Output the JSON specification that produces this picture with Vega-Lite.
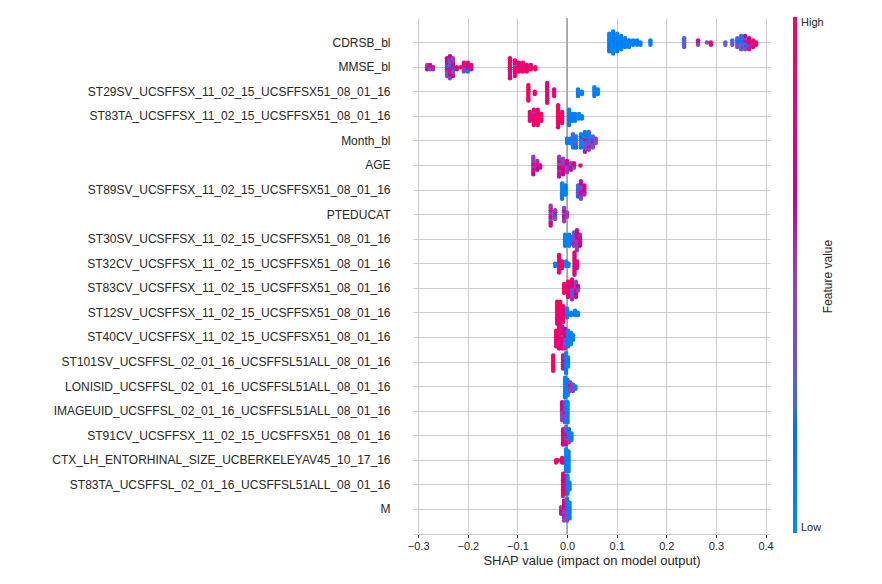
{
  "$schema": "https://vega.github.io/schema/vega-lite/v6.json",
  "width": 357,
  "height": 516,
  "autosize": {"type": "none"},
  "padding": {"left": 413, "top": 18, "right": 112, "bottom": 50},
  "background": "white",
  "config": {
    "view": {"stroke": null},
    "font": "Liberation Sans"
  },
  "layer": [
    {
      "data": {"values": [{}]},
      "mark": {"type": "rule", "color": "#999999", "strokeWidth": 1.5},
      "encoding": {"x": {"datum": 0, "type": "quantitative"}}
    },
    {
      "data": {
        "values": [
          {"f": "CDRSB_bl", "x": 0.085, "c": [0.05,0.1,0.05,0.15,0.05,0.1,0.05,0.1,0.05]},
          {"f": "CDRSB_bl", "x": 0.093, "c": [0.1,0.05,0.1,0.05,0.15,0.05,0.1,0.05,0.1,0.05,0.1]},
          {"f": "CDRSB_bl", "x": 0.101, "c": [0.05,0.1,0.05,0.1,0.05,0.15,0.05,0.1,0.05]},
          {"f": "CDRSB_bl", "x": 0.109, "c": [0.1,0.05,0.1,0.05,0.1,0.05,0.1]},
          {"f": "CDRSB_bl", "x": 0.117, "c": [0.05,0.1,0.05,0.1,0.05]},
          {"f": "CDRSB_bl", "x": 0.125, "c": [0.1,0.05,0.1,0.05]},
          {"f": "CDRSB_bl", "x": 0.133, "c": [0.05,0.1,0.05]},
          {"f": "CDRSB_bl", "x": 0.141, "c": [0.1,0.05,0.1]},
          {"f": "CDRSB_bl", "x": 0.148, "c": [0.05,0.1]},
          {"f": "CDRSB_bl", "x": 0.168, "c": [0.05,0.1,0.05]},
          {"f": "CDRSB_bl", "x": 0.236, "c": [0.3,0.25,0.3,0.35,0.25]},
          {"f": "CDRSB_bl", "x": 0.264, "c": [0.65,0.45,0.6]},
          {"f": "CDRSB_bl", "x": 0.282, "c": [0.4]},
          {"f": "CDRSB_bl", "x": 0.29, "c": [0.95,0.9]},
          {"f": "CDRSB_bl", "x": 0.319, "c": [0.35,0.3]},
          {"f": "CDRSB_bl", "x": 0.333, "c": [0.3,0.45,0.25]},
          {"f": "CDRSB_bl", "x": 0.343, "c": [0.2,0.35,0.15,0.4,0.3]},
          {"f": "CDRSB_bl", "x": 0.351, "c": [0.15,0.3,0.2,0.45,0.1,0.35,0.25]},
          {"f": "CDRSB_bl", "x": 0.359, "c": [0.6,0.3,0.75,0.2,0.5,0.4,0.65]},
          {"f": "CDRSB_bl", "x": 0.367, "c": [0.8,0.6,0.9,0.55,0.7,0.85]},
          {"f": "CDRSB_bl", "x": 0.375, "c": [0.9,0.85,0.95,0.8]},
          {"f": "CDRSB_bl", "x": 0.381, "c": [0.95,0.9]},

          {"f": "MMSE_bl", "x": -0.282, "c": [0.5,0.7,0.45]},
          {"f": "MMSE_bl", "x": -0.276, "c": [0.6,0.4,0.75]},
          {"f": "MMSE_bl", "x": -0.27, "c": [0.7,0.55]},
          {"f": "MMSE_bl", "x": -0.242, "c": [0.4,0.7,0.2,0.55,0.85,0.3,0.6,0.45,0.75]},
          {"f": "MMSE_bl", "x": -0.236, "c": [0.3,0.8,0.1,0.6,0.45,0.9,0.25,0.7,0.5,0.35,0.65]},
          {"f": "MMSE_bl", "x": -0.23, "c": [0.6,0.2,0.75,0.4,0.85,0.3,0.55,0.7,0.45]},
          {"f": "MMSE_bl", "x": -0.222, "c": [0.9,0.85]},
          {"f": "MMSE_bl", "x": -0.214, "c": [0.95]},
          {"f": "MMSE_bl", "x": -0.208, "c": [0.7,0.3,0.9,0.5,0.8]},
          {"f": "MMSE_bl", "x": -0.2, "c": [0.2,0.85,0.6,0.1,0.9]},
          {"f": "MMSE_bl", "x": -0.193, "c": [0.8,0.6,0.9]},
          {"f": "MMSE_bl", "x": -0.115, "c": [0.9,0.85,0.95,0.8,0.9,0.6,0.95,0.85,0.9,0.75]},
          {"f": "MMSE_bl", "x": -0.105, "c": [0.85,0.9,0.5,0.95,0.8,0.9,0.85,0.95]},
          {"f": "MMSE_bl", "x": -0.097, "c": [0.9,0.95,0.85,0.9,0.8]},
          {"f": "MMSE_bl", "x": -0.089, "c": [0.2,0.9,0.95,0.85,0.9]},
          {"f": "MMSE_bl", "x": -0.081, "c": [0.95,0.9,0.85,0.9]},
          {"f": "MMSE_bl", "x": -0.073, "c": [0.9,0.95,0.85]},
          {"f": "MMSE_bl", "x": -0.064, "c": [0.95,0.9]},

          {"f": "ST29SV_UCSFFSX_11_02_15_UCSFFSX51_08_01_16", "x": -0.078, "c": [0.95,0.9,0.95,0.9,0.95,0.85,0.95,0.9]},
          {"f": "ST29SV_UCSFFSX_11_02_15_UCSFFSX51_08_01_16", "x": -0.065, "c": [0.95,0.9]},
          {"f": "ST29SV_UCSFFSX_11_02_15_UCSFFSX51_08_01_16", "x": -0.04, "c": [0.9,0.8,0.95,0.75,0.9,0.85,0.7,0.95,0.8,0.9]},
          {"f": "ST29SV_UCSFFSX_11_02_15_UCSFFSX51_08_01_16", "x": -0.026, "c": [0.85,0.9,0.75,0.95]},
          {"f": "ST29SV_UCSFFSX_11_02_15_UCSFFSX51_08_01_16", "x": 0.022, "c": [0.05,0.1,0.05,0.1]},
          {"f": "ST29SV_UCSFFSX_11_02_15_UCSFFSX51_08_01_16", "x": 0.03, "c": [0.05,0.1]},
          {"f": "ST29SV_UCSFFSX_11_02_15_UCSFFSX51_08_01_16", "x": 0.055, "c": [0.05,0.1,0.05,0.1,0.05]},
          {"f": "ST29SV_UCSFFSX_11_02_15_UCSFFSX51_08_01_16", "x": 0.062, "c": [0.05,0.1,0.05]},

          {"f": "ST83TA_UCSFFSX_11_02_15_UCSFFSX51_08_01_16", "x": -0.075, "c": [0.9,0.6,0.95,0.85,0.9]},
          {"f": "ST83TA_UCSFFSX_11_02_15_UCSFFSX51_08_01_16", "x": -0.067, "c": [0.95,0.9,0.85,0.95,0.5,0.9,0.95,0.85]},
          {"f": "ST83TA_UCSFFSX_11_02_15_UCSFFSX51_08_01_16", "x": -0.059, "c": [0.9,0.95,0.85,0.9,0.95,0.9,0.85,0.95]},
          {"f": "ST83TA_UCSFFSX_11_02_15_UCSFFSX51_08_01_16", "x": -0.052, "c": [0.9,0.85,0.95,0.9]},
          {"f": "ST83TA_UCSFFSX_11_02_15_UCSFFSX51_08_01_16", "x": -0.018, "c": [0.95,0.9,0.95,0.9,0.95,0.9,0.95,0.9,0.95,0.9,0.95]},
          {"f": "ST83TA_UCSFFSX_11_02_15_UCSFFSX51_08_01_16", "x": -0.01, "c": [0.9,0.95,0.9,0.95,0.9,0.95]},
          {"f": "ST83TA_UCSFFSX_11_02_15_UCSFFSX51_08_01_16", "x": 0.004, "c": [0.05,0.1,0.05,0.1,0.05,0.1,0.05,0.1]},
          {"f": "ST83TA_UCSFFSX_11_02_15_UCSFFSX51_08_01_16", "x": 0.01, "c": [0.05,0.1,0.05,0.1]},
          {"f": "ST83TA_UCSFFSX_11_02_15_UCSFFSX51_08_01_16", "x": 0.016, "c": [0.05,0.1,0.05,0.1]},
          {"f": "ST83TA_UCSFFSX_11_02_15_UCSFFSX51_08_01_16", "x": 0.024, "c": [0.05,0.1,0.05]},
          {"f": "ST83TA_UCSFFSX_11_02_15_UCSFFSX51_08_01_16", "x": 0.03, "c": [0.05,0.1]},

          {"f": "Month_bl", "x": 0.0, "c": [0.05,0.1,0.05]},
          {"f": "Month_bl", "x": 0.006, "c": [0.1,0.05,0.1]},
          {"f": "Month_bl", "x": 0.012, "c": [0.3,0.05,0.4,0.1,0.25,0.05,0.35]},
          {"f": "Month_bl", "x": 0.018, "c": [0.05,0.3,0.1,0.4,0.05,0.2]},
          {"f": "Month_bl", "x": 0.028, "c": [0.1,0.05,0.3,0.05,0.2,0.1,0.05]},
          {"f": "Month_bl", "x": 0.036, "c": [0.4,0.1,0.9,0.3,0.05,0.5,0.2,0.35,0.1,0.6]},
          {"f": "Month_bl", "x": 0.044, "c": [0.2,0.5,0.1,0.4,0.3,0.6,0.05,0.45,0.25]},
          {"f": "Month_bl", "x": 0.052, "c": [0.35,0.6,0.2,0.5,0.3,0.45]},
          {"f": "Month_bl", "x": 0.058, "c": [0.4,0.3,0.5]},

          {"f": "AGE", "x": -0.068, "c": [0.7,0.5,0.8,0.6,0.45,0.75,0.55,0.65,0.5]},
          {"f": "AGE", "x": -0.06, "c": [0.85,0.6,0.9,0.7,0.55]},
          {"f": "AGE", "x": -0.054, "c": [0.8,0.6]},
          {"f": "AGE", "x": -0.016, "c": [0.5,0.7,0.4,0.8,0.6,0.45,0.55,0.75,0.5,0.6]},
          {"f": "AGE", "x": -0.008, "c": [0.6,0.9,0.45,0.7,0.5,0.85,0.4,0.65]},
          {"f": "AGE", "x": 0.0, "c": [0.55,0.35,0.7,0.45,0.8,0.5]},
          {"f": "AGE", "x": 0.008, "c": [0.5,0.7,0.45,0.6]},
          {"f": "AGE", "x": 0.014, "c": [0.65,0.5,0.75]},
          {"f": "AGE", "x": 0.027, "c": [0.95]},

          {"f": "ST89SV_UCSFFSX_11_02_15_UCSFFSX51_08_01_16", "x": -0.01, "c": [0.05,0.1,0.05,0.1,0.05,0.1,0.05,0.1]},
          {"f": "ST89SV_UCSFFSX_11_02_15_UCSFFSX51_08_01_16", "x": -0.003, "c": [0.1,0.05,0.1,0.05,0.1]},
          {"f": "ST89SV_UCSFFSX_11_02_15_UCSFFSX51_08_01_16", "x": 0.022, "c": [0.2,0.45,0.1,0.5,0.3,0.15]},
          {"f": "ST89SV_UCSFFSX_11_02_15_UCSFFSX51_08_01_16", "x": 0.028, "c": [0.5,0.6,0.4,0.7,0.45,0.55,0.65,0.35,0.6]},
          {"f": "ST89SV_UCSFFSX_11_02_15_UCSFFSX51_08_01_16", "x": 0.035, "c": [0.7,0.6,0.8,0.55,0.75]},

          {"f": "PTEDUCAT", "x": -0.033, "c": [0.5,0.7,0.45,0.6,0.8,0.4,0.55,0.65,0.5,0.75]},
          {"f": "PTEDUCAT", "x": -0.024, "c": [0.4,0.2,0.6,0.35,0.5]},
          {"f": "PTEDUCAT", "x": -0.006, "c": [0.55,0.7,0.45,0.6,0.65,0.5,0.4]},
          {"f": "PTEDUCAT", "x": 0.0, "c": [0.6,0.5,0.45]},

          {"f": "ST30SV_UCSFFSX_11_02_15_UCSFFSX51_08_01_16", "x": -0.004, "c": [0.05,0.1,0.05,0.1,0.05,0.1]},
          {"f": "ST30SV_UCSFFSX_11_02_15_UCSFFSX51_08_01_16", "x": 0.004, "c": [0.1,0.05,0.1,0.05,0.1,0.05]},
          {"f": "ST30SV_UCSFFSX_11_02_15_UCSFFSX51_08_01_16", "x": 0.01, "c": [0.05,0.1,0.05,0.1]},
          {"f": "ST30SV_UCSFFSX_11_02_15_UCSFFSX51_08_01_16", "x": 0.014, "c": [0.45,0.5,0.35,0.6,0.4,0.55,0.3]},
          {"f": "ST30SV_UCSFFSX_11_02_15_UCSFFSX51_08_01_16", "x": 0.02, "c": [0.6,0.5,0.7,0.45,0.8,0.55,0.65,0.4,0.75,0.5]},
          {"f": "ST30SV_UCSFFSX_11_02_15_UCSFFSX51_08_01_16", "x": 0.026, "c": [0.7,0.8,0.6,0.75,0.55,0.65]},

          {"f": "ST32CV_UCSFFSX_11_02_15_UCSFFSX51_08_01_16", "x": -0.024, "c": [0.05,0.1]},
          {"f": "ST32CV_UCSFFSX_11_02_15_UCSFFSX51_08_01_16", "x": -0.016, "c": [0.9,0.95,0.85,0.95,0.8,0.9,0.95,0.85,0.9]},
          {"f": "ST32CV_UCSFFSX_11_02_15_UCSFFSX51_08_01_16", "x": -0.01, "c": [0.9,0.85,0.95,0.9]},
          {"f": "ST32CV_UCSFFSX_11_02_15_UCSFFSX51_08_01_16", "x": -0.002, "c": [0.05,0.1,0.05]},
          {"f": "ST32CV_UCSFFSX_11_02_15_UCSFFSX51_08_01_16", "x": 0.003, "c": [0.1,0.05]},
          {"f": "ST32CV_UCSFFSX_11_02_15_UCSFFSX51_08_01_16", "x": 0.015, "c": [0.9,0.8,0.95,0.7,0.85,0.9,0.75,0.95,0.8,0.6,0.9]},
          {"f": "ST32CV_UCSFFSX_11_02_15_UCSFFSX51_08_01_16", "x": 0.02, "c": [0.85,0.7,0.9,0.8]},

          {"f": "ST83CV_UCSFFSX_11_02_15_UCSFFSX51_08_01_16", "x": -0.006, "c": [0.9,0.95,0.85,0.9,0.95]},
          {"f": "ST83CV_UCSFFSX_11_02_15_UCSFFSX51_08_01_16", "x": 0.002, "c": [0.8,0.9,0.7,0.95,0.85,0.75,0.9,0.8]},
          {"f": "ST83CV_UCSFFSX_11_02_15_UCSFFSX51_08_01_16", "x": 0.01, "c": [0.6,0.3,0.8,0.5,0.9,0.1,0.7,0.4,0.85,0.55]},
          {"f": "ST83CV_UCSFFSX_11_02_15_UCSFFSX51_08_01_16", "x": 0.018, "c": [0.5,0.7,0.4,0.8,0.45,0.65,0.3,0.6]},
          {"f": "ST83CV_UCSFFSX_11_02_15_UCSFFSX51_08_01_16", "x": 0.022, "c": [0.6,0.4,0.7]},

          {"f": "ST12SV_UCSFFSX_11_02_15_UCSFFSX51_08_01_16", "x": -0.02, "c": [0.95,0.9,0.95,0.9,0.95,0.9,0.95,0.9,0.95,0.9,0.95]},
          {"f": "ST12SV_UCSFFSX_11_02_15_UCSFFSX51_08_01_16", "x": -0.014, "c": [0.9,0.8,0.95,0.85,0.9,0.75,0.95,0.85,0.9,0.8,0.95]},
          {"f": "ST12SV_UCSFFSX_11_02_15_UCSFFSX51_08_01_16", "x": -0.008, "c": [0.85,0.9,0.8,0.95,0.7,0.9,0.85,0.9]},
          {"f": "ST12SV_UCSFFSX_11_02_15_UCSFFSX51_08_01_16", "x": 0.0, "c": [0.05,0.1,0.05,0.1,0.05]},
          {"f": "ST12SV_UCSFFSX_11_02_15_UCSFFSX51_08_01_16", "x": 0.008, "c": [0.05,0.1]},
          {"f": "ST12SV_UCSFFSX_11_02_15_UCSFFSX51_08_01_16", "x": 0.016, "c": [0.05,0.1,0.05]},
          {"f": "ST12SV_UCSFFSX_11_02_15_UCSFFSX51_08_01_16", "x": 0.022, "c": [0.05,0.1]},

          {"f": "ST40CV_UCSFFSX_11_02_15_UCSFFSX51_08_01_16", "x": -0.022, "c": [0.9,0.85,0.95,0.8,0.9,0.85,0.95,0.9]},
          {"f": "ST40CV_UCSFFSX_11_02_15_UCSFFSX51_08_01_16", "x": -0.016, "c": [0.85,0.7,0.9,0.95,0.6,0.85,0.9,0.75,0.95,0.8,0.9]},
          {"f": "ST40CV_UCSFFSX_11_02_15_UCSFFSX51_08_01_16", "x": -0.01, "c": [0.7,0.9,0.5,0.85,0.95,0.6,0.8,0.9,0.55,0.85,0.75]},
          {"f": "ST40CV_UCSFFSX_11_02_15_UCSFFSX51_08_01_16", "x": -0.004, "c": [0.6,0.4,0.8,0.5,0.7,0.3,0.9,0.45,0.65,0.55]},
          {"f": "ST40CV_UCSFFSX_11_02_15_UCSFFSX51_08_01_16", "x": 0.002, "c": [0.05,0.1,0.05,0.1,0.05,0.1,0.05,0.1]},
          {"f": "ST40CV_UCSFFSX_11_02_15_UCSFFSX51_08_01_16", "x": 0.008, "c": [0.1,0.05,0.1,0.05,0.1,0.05]},
          {"f": "ST40CV_UCSFFSX_11_02_15_UCSFFSX51_08_01_16", "x": 0.012, "c": [0.05,0.1,0.05]},

          {"f": "ST101SV_UCSFFSL_02_01_16_UCSFFSL51ALL_08_01_16", "x": -0.028, "c": [0.95,0.9,0.95,0.9,0.95,0.9,0.95,0.9]},
          {"f": "ST101SV_UCSFFSL_02_01_16_UCSFFSL51ALL_08_01_16", "x": -0.008, "c": [0.8,0.9,0.7,0.85,0.9,0.75,0.85]},
          {"f": "ST101SV_UCSFFSL_02_01_16_UCSFFSL51ALL_08_01_16", "x": -0.002, "c": [0.05,0.1,0.05,0.1,0.05,0.1,0.05,0.1,0.05,0.1]},
          {"f": "ST101SV_UCSFFSL_02_01_16_UCSFFSL51ALL_08_01_16", "x": 0.002, "c": [0.1,0.05,0.1,0.05,0.1]},

          {"f": "LONISID_UCSFFSL_02_01_16_UCSFFSL51ALL_08_01_16", "x": -0.004, "c": [0.05,0.1,0.05,0.1,0.05,0.1,0.05,0.1,0.05,0.1]},
          {"f": "LONISID_UCSFFSL_02_01_16_UCSFFSL51ALL_08_01_16", "x": 0.001, "c": [0.1,0.05,0.1,0.05,0.1,0.05,0.1,0.05]},
          {"f": "LONISID_UCSFFSL_02_01_16_UCSFFSL51ALL_08_01_16", "x": 0.006, "c": [0.9,0.45,0.8,0.5,0.35]},
          {"f": "LONISID_UCSFFSL_02_01_16_UCSFFSL51ALL_08_01_16", "x": 0.012, "c": [0.4,0.5,0.3,0.45]},
          {"f": "LONISID_UCSFFSL_02_01_16_UCSFFSL51ALL_08_01_16", "x": 0.017, "c": [0.05,0.1]},

          {"f": "IMAGEUID_UCSFFSL_02_01_16_UCSFFSL51ALL_08_01_16", "x": -0.01, "c": [0.6,0.45,0.75,0.5,0.8,0.4,0.65,0.55,0.7]},
          {"f": "IMAGEUID_UCSFFSL_02_01_16_UCSFFSL51ALL_08_01_16", "x": -0.004, "c": [0.3,0.6,0.1,0.5,0.2,0.45,0.05,0.35,0.15,0.25]},
          {"f": "IMAGEUID_UCSFFSL_02_01_16_UCSFFSL51ALL_08_01_16", "x": 0.001, "c": [0.05,0.1,0.05,0.1,0.05,0.1,0.05,0.1,0.05,0.1]},

          {"f": "ST91CV_UCSFFSX_11_02_15_UCSFFSX51_08_01_16", "x": -0.008, "c": [0.85,0.9,0.75,0.95,0.8,0.9,0.85,0.7]},
          {"f": "ST91CV_UCSFFSX_11_02_15_UCSFFSX51_08_01_16", "x": -0.002, "c": [0.7,0.2,0.85,0.5,0.1,0.9,0.4,0.6,0.3]},
          {"f": "ST91CV_UCSFFSX_11_02_15_UCSFFSX51_08_01_16", "x": 0.004, "c": [0.1,0.4,0.05,0.3,0.1,0.5,0.2]},
          {"f": "ST91CV_UCSFFSX_11_02_15_UCSFFSX51_08_01_16", "x": 0.009, "c": [0.05,0.1,0.05,0.1]},

          {"f": "CTX_LH_ENTORHINAL_SIZE_UCBERKELEYAV45_10_17_16", "x": -0.022, "c": [0.95,0.9]},
          {"f": "CTX_LH_ENTORHINAL_SIZE_UCBERKELEYAV45_10_17_16", "x": -0.018, "c": [0.95]},
          {"f": "CTX_LH_ENTORHINAL_SIZE_UCBERKELEYAV45_10_17_16", "x": -0.01, "c": [0.8,0.7,0.9]},
          {"f": "CTX_LH_ENTORHINAL_SIZE_UCBERKELEYAV45_10_17_16", "x": -0.006, "c": [0.75,0.85]},
          {"f": "CTX_LH_ENTORHINAL_SIZE_UCBERKELEYAV45_10_17_16", "x": -0.002, "c": [0.05,0.1,0.05,0.1,0.05,0.1,0.05,0.1,0.05,0.1,0.05]},
          {"f": "CTX_LH_ENTORHINAL_SIZE_UCBERKELEYAV45_10_17_16", "x": 0.003, "c": [0.1,0.05,0.1,0.05,0.1,0.05,0.1,0.05,0.1,0.05]},

          {"f": "ST83TA_UCSFFSL_02_01_16_UCSFFSL51ALL_08_01_16", "x": -0.008, "c": [0.9,0.8,0.95,0.85,0.7,0.9,0.75,0.95,0.8,0.85,0.9]},
          {"f": "ST83TA_UCSFFSL_02_01_16_UCSFFSL51ALL_08_01_16", "x": -0.004, "c": [0.7,0.85,0.6,0.9,0.75,0.8,0.65,0.9,0.7]},
          {"f": "ST83TA_UCSFFSL_02_01_16_UCSFFSL51ALL_08_01_16", "x": 0.001, "c": [0.05,0.1,0.05,0.1,0.05,0.1,0.05,0.1,0.05]},
          {"f": "ST83TA_UCSFFSL_02_01_16_UCSFFSL51ALL_08_01_16", "x": 0.005, "c": [0.1,0.05,0.1,0.05]},

          {"f": "M", "x": -0.012, "c": [0.5,0.7,0.45,0.6]},
          {"f": "M", "x": -0.006, "c": [0.7,0.5,0.85,0.4,0.75,0.6,0.9,0.55,0.8,0.45]},
          {"f": "M", "x": 0.0, "c": [0.2,0.45,0.1,0.35,0.05,0.5,0.15,0.3,0.05,0.4,0.1]},
          {"f": "M", "x": 0.005, "c": [0.05,0.1,0.05,0.1,0.05,0.1,0.05,0.1]}
        ]
      },
      "transform": [
        {"flatten": ["c"]},
        {"window": [{"op": "row_number", "as": "k"}], "groupby": ["f", "x"]},
        {"calculate": "(datum.k % 2 == 0 ? 1 : -1) * floor(datum.k / 2)", "as": "off"}
      ],
      "mark": {"type": "circle", "size": 20, "opacity": 1, "strokeWidth": 0},
      "encoding": {
        "x": {
          "field": "x",
          "type": "quantitative",
          "scale": {"domain": [-0.3105, 0.409], "nice": false, "zero": false},
          "axis": {
            "values": [-0.3, -0.2, -0.1, 0, 0.1, 0.2, 0.3, 0.4],
            "format": ".1f",
            "grid": true,
            "gridColor": "#cccccc",
            "domainColor": "#cccccc",
            "tickColor": "#262626",
            "tickSize": 3.5,
            "labelFontSize": 11,
            "labelColor": "#262626",
            "labelPadding": 3,
            "title": "SHAP value (impact on model output)",
            "titleFontSize": 13,
            "titleFontWeight": "normal",
            "titleColor": "#262626",
            "titlePadding": 3
          }
        },
        "y": {
          "field": "f",
          "type": "nominal",
          "scale": {
            "domain": [
              "CDRSB_bl",
              "MMSE_bl",
              "ST29SV_UCSFFSX_11_02_15_UCSFFSX51_08_01_16",
              "ST83TA_UCSFFSX_11_02_15_UCSFFSX51_08_01_16",
              "Month_bl",
              "AGE",
              "ST89SV_UCSFFSX_11_02_15_UCSFFSX51_08_01_16",
              "PTEDUCAT",
              "ST30SV_UCSFFSX_11_02_15_UCSFFSX51_08_01_16",
              "ST32CV_UCSFFSX_11_02_15_UCSFFSX51_08_01_16",
              "ST83CV_UCSFFSX_11_02_15_UCSFFSX51_08_01_16",
              "ST12SV_UCSFFSX_11_02_15_UCSFFSX51_08_01_16",
              "ST40CV_UCSFFSX_11_02_15_UCSFFSX51_08_01_16",
              "ST101SV_UCSFFSL_02_01_16_UCSFFSL51ALL_08_01_16",
              "LONISID_UCSFFSL_02_01_16_UCSFFSL51ALL_08_01_16",
              "IMAGEUID_UCSFFSL_02_01_16_UCSFFSL51ALL_08_01_16",
              "ST91CV_UCSFFSX_11_02_15_UCSFFSX51_08_01_16",
              "CTX_LH_ENTORHINAL_SIZE_UCBERKELEYAV45_10_17_16",
              "ST83TA_UCSFFSL_02_01_16_UCSFFSL51ALL_08_01_16",
              "M"
            ],
            "paddingInner": 0,
            "paddingOuter": 0.5
          },
          "axis": {
            "orient": "left",
            "title": null,
            "grid": true,
            "gridColor": "#cccccc",
            "bandPosition": 0.5,
            "domain": false,
            "ticks": false,
            "labelFontSize": 12,
            "labelColor": "#262626",
            "labelPadding": 23,
            "labelLimit": 400
          }
        },
        "yOffset": {"field": "off", "type": "quantitative", "scale": {"domain": [-6, 6], "range": [-0.915, 25.485]}},
        "color": {
          "field": "c",
          "type": "quantitative",
          "scale": {
            "domain": [0, 0.2, 0.35, 0.5, 0.62, 1],
            "range": ["#008bfb", "#0070f0", "#6c52d8", "#983cbc", "#c0009c", "#ff0052"]
          },
          "legend": {
            "orient": "none",
            "legendX": 380,
            "legendY": -1,
            "direction": "vertical",
            "padding": 0,
            "gradientLength": 516,
            "gradientThickness": 4,
            "gradientStrokeWidth": 0,
            "values": [0, 1],
            "labelExpr": "datum.value > 0.5 ? 'High' : 'Low'",
            "labelFontSize": 11,
            "labelColor": "#262626",
            "labelOffset": 4,
            "title": null
          }
        }
      }
    },
    {
      "data": {"values": [{}]},
      "mark": {"type": "text", "text": ""},
      "encoding": {
        "y": {
          "datum": 0,
          "type": "quantitative",
          "axis": {
            "orient": "right",
            "labels": false,
            "ticks": false,
            "domain": false,
            "grid": false,
            "title": "Feature value",
            "titleAngle": 270,
            "titleX": 57,
            "titleY": 258,
            "titleAlign": "center",
            "titleBaseline": "middle",
            "titleFontSize": 12,
            "titleFontWeight": "normal",
            "titleColor": "#262626"
          }
        }
      }
    }
  ],
  "resolve": {"scale": {"y": "independent"}, "axis": {"y": "independent"}}
}
